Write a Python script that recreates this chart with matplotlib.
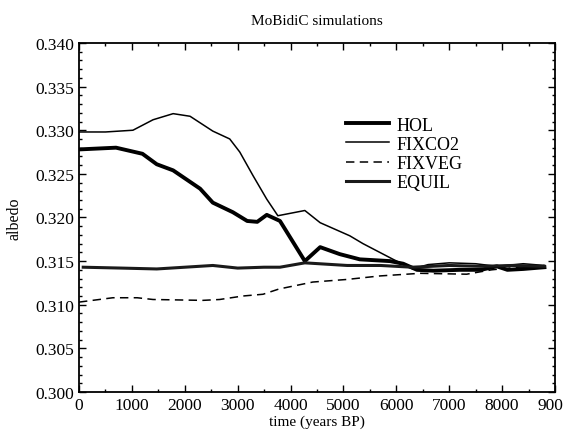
"""Albedo from the MoBidiC Holocene runs, redrawn from a scanned figure."""

import matplotlib

matplotlib.use("Agg")
import matplotlib.pyplot as plt
from matplotlib.ticker import MultipleLocator

plt.rcParams["font.family"] = ["Liberation Serif", "DejaVu Serif"]

# values (time in years BP, albedo)
HOL_T = [0, 700, 1200, 1470, 1780, 2290, 2530, 2910, 3180, 3370, 3550, 3800,
         4270, 4560, 4930, 5310, 5880, 6130, 6390, 6700, 7200, 7600, 7900,
         8100, 8400, 8800]
HOL_V = [0.3278, 0.3280, 0.3273, 0.3261, 0.3254, 0.3233, 0.3217, 0.3206,
         0.3196, 0.3195, 0.3203, 0.3196, 0.3150, 0.3166, 0.3158, 0.3152,
         0.3150, 0.3147, 0.3140, 0.3139, 0.3140, 0.3140, 0.3144, 0.3140,
         0.3141, 0.3143]

FIXCO2_T = [0, 500, 1020, 1400, 1780, 2100, 2530, 2850, 3040, 3290, 3550,
            3760, 4270, 4560, 5120, 5370, 5940, 6310, 6600, 7000, 7500, 7900,
            8400, 8800]
FIXCO2_V = [0.3298, 0.3298, 0.3300, 0.3312, 0.3319, 0.3316, 0.3299, 0.3290,
            0.3275, 0.3248, 0.3221, 0.3202, 0.3208, 0.3194, 0.3179, 0.3170,
            0.3152, 0.3141, 0.3146, 0.3148, 0.3147, 0.3144, 0.3147, 0.3145]

FIXVEG_T = [0, 640, 1100, 1400, 2340, 2660, 3100, 3480, 3780, 4420, 5070,
            5690, 6450, 7330, 7800, 8300, 8800]
FIXVEG_V = [0.3103, 0.3108, 0.3108, 0.3106, 0.3105, 0.3106, 0.3110, 0.3112,
            0.3118, 0.3126, 0.3129, 0.3133, 0.3136, 0.3135, 0.3140, 0.3143,
            0.3145]

EQUIL_T = [80, 800, 1470, 2000, 2530, 3000, 3500, 3800, 4270, 5070, 5700,
           6300, 7000, 7600, 8200, 8800]
EQUIL_V = [0.3143, 0.3142, 0.3141, 0.3143, 0.3145, 0.3142, 0.3143, 0.3143,
           0.3148, 0.3145, 0.3145, 0.3143, 0.3145, 0.3144, 0.3145, 0.3144]


def main() -> None:
    fig = plt.figure(figsize=(5.63, 4.35), dpi=100)
    ax = fig.add_axes([0.1403, 0.0966, 0.8455, 0.8023])

    ax.plot(HOL_T, HOL_V, color="black", lw=2.8, label="HOL")
    ax.plot(FIXCO2_T, FIXCO2_V, color="black", lw=1.1, label="FIXCO2")
    ax.plot(FIXVEG_T, FIXVEG_V, color="black", lw=1.1, ls=(0, (5.5, 3.5)),
            label="FIXVEG")
    ax.plot(EQUIL_T, EQUIL_V, color="#1a1a1a", lw=2.2, label="EQUIL")

    ax.set_xlim(0, 9000)
    ax.set_ylim(0.300, 0.340)
    ax.xaxis.set_major_locator(MultipleLocator(1000))
    ax.xaxis.set_minor_locator(MultipleLocator(500))
    ax.yaxis.set_major_locator(MultipleLocator(0.005))
    ax.yaxis.set_minor_locator(MultipleLocator(0.001))
    ax.yaxis.set_major_formatter(plt.FormatStrFormatter("%.3f"))
    ax.tick_params(which="both", direction="in", top=True, right=True,
                   width=1.0, labelsize=12.5)
    ax.tick_params(which="major", length=5)
    ax.tick_params(which="minor", length=2.5)
    for spine in ax.spines.values():
        spine.set_linewidth(1.3)

    ax.set_title("MoBidiC simulations", fontsize=11, pad=14)
    ax.set_xlabel("time (years BP)", fontsize=11, labelpad=1.5)
    ax.set_ylabel("albedo", fontsize=11.5, labelpad=9)

    ax.legend(loc="upper left", bbox_to_anchor=(0.545, 0.81), frameon=False,
              fontsize=13, handlelength=2.4, handletextpad=0.4,
              labelspacing=0.12, borderaxespad=0)

    fig.savefig("out.png", dpi=100)
    plt.close(fig)


if __name__ == "__main__":
    main()
